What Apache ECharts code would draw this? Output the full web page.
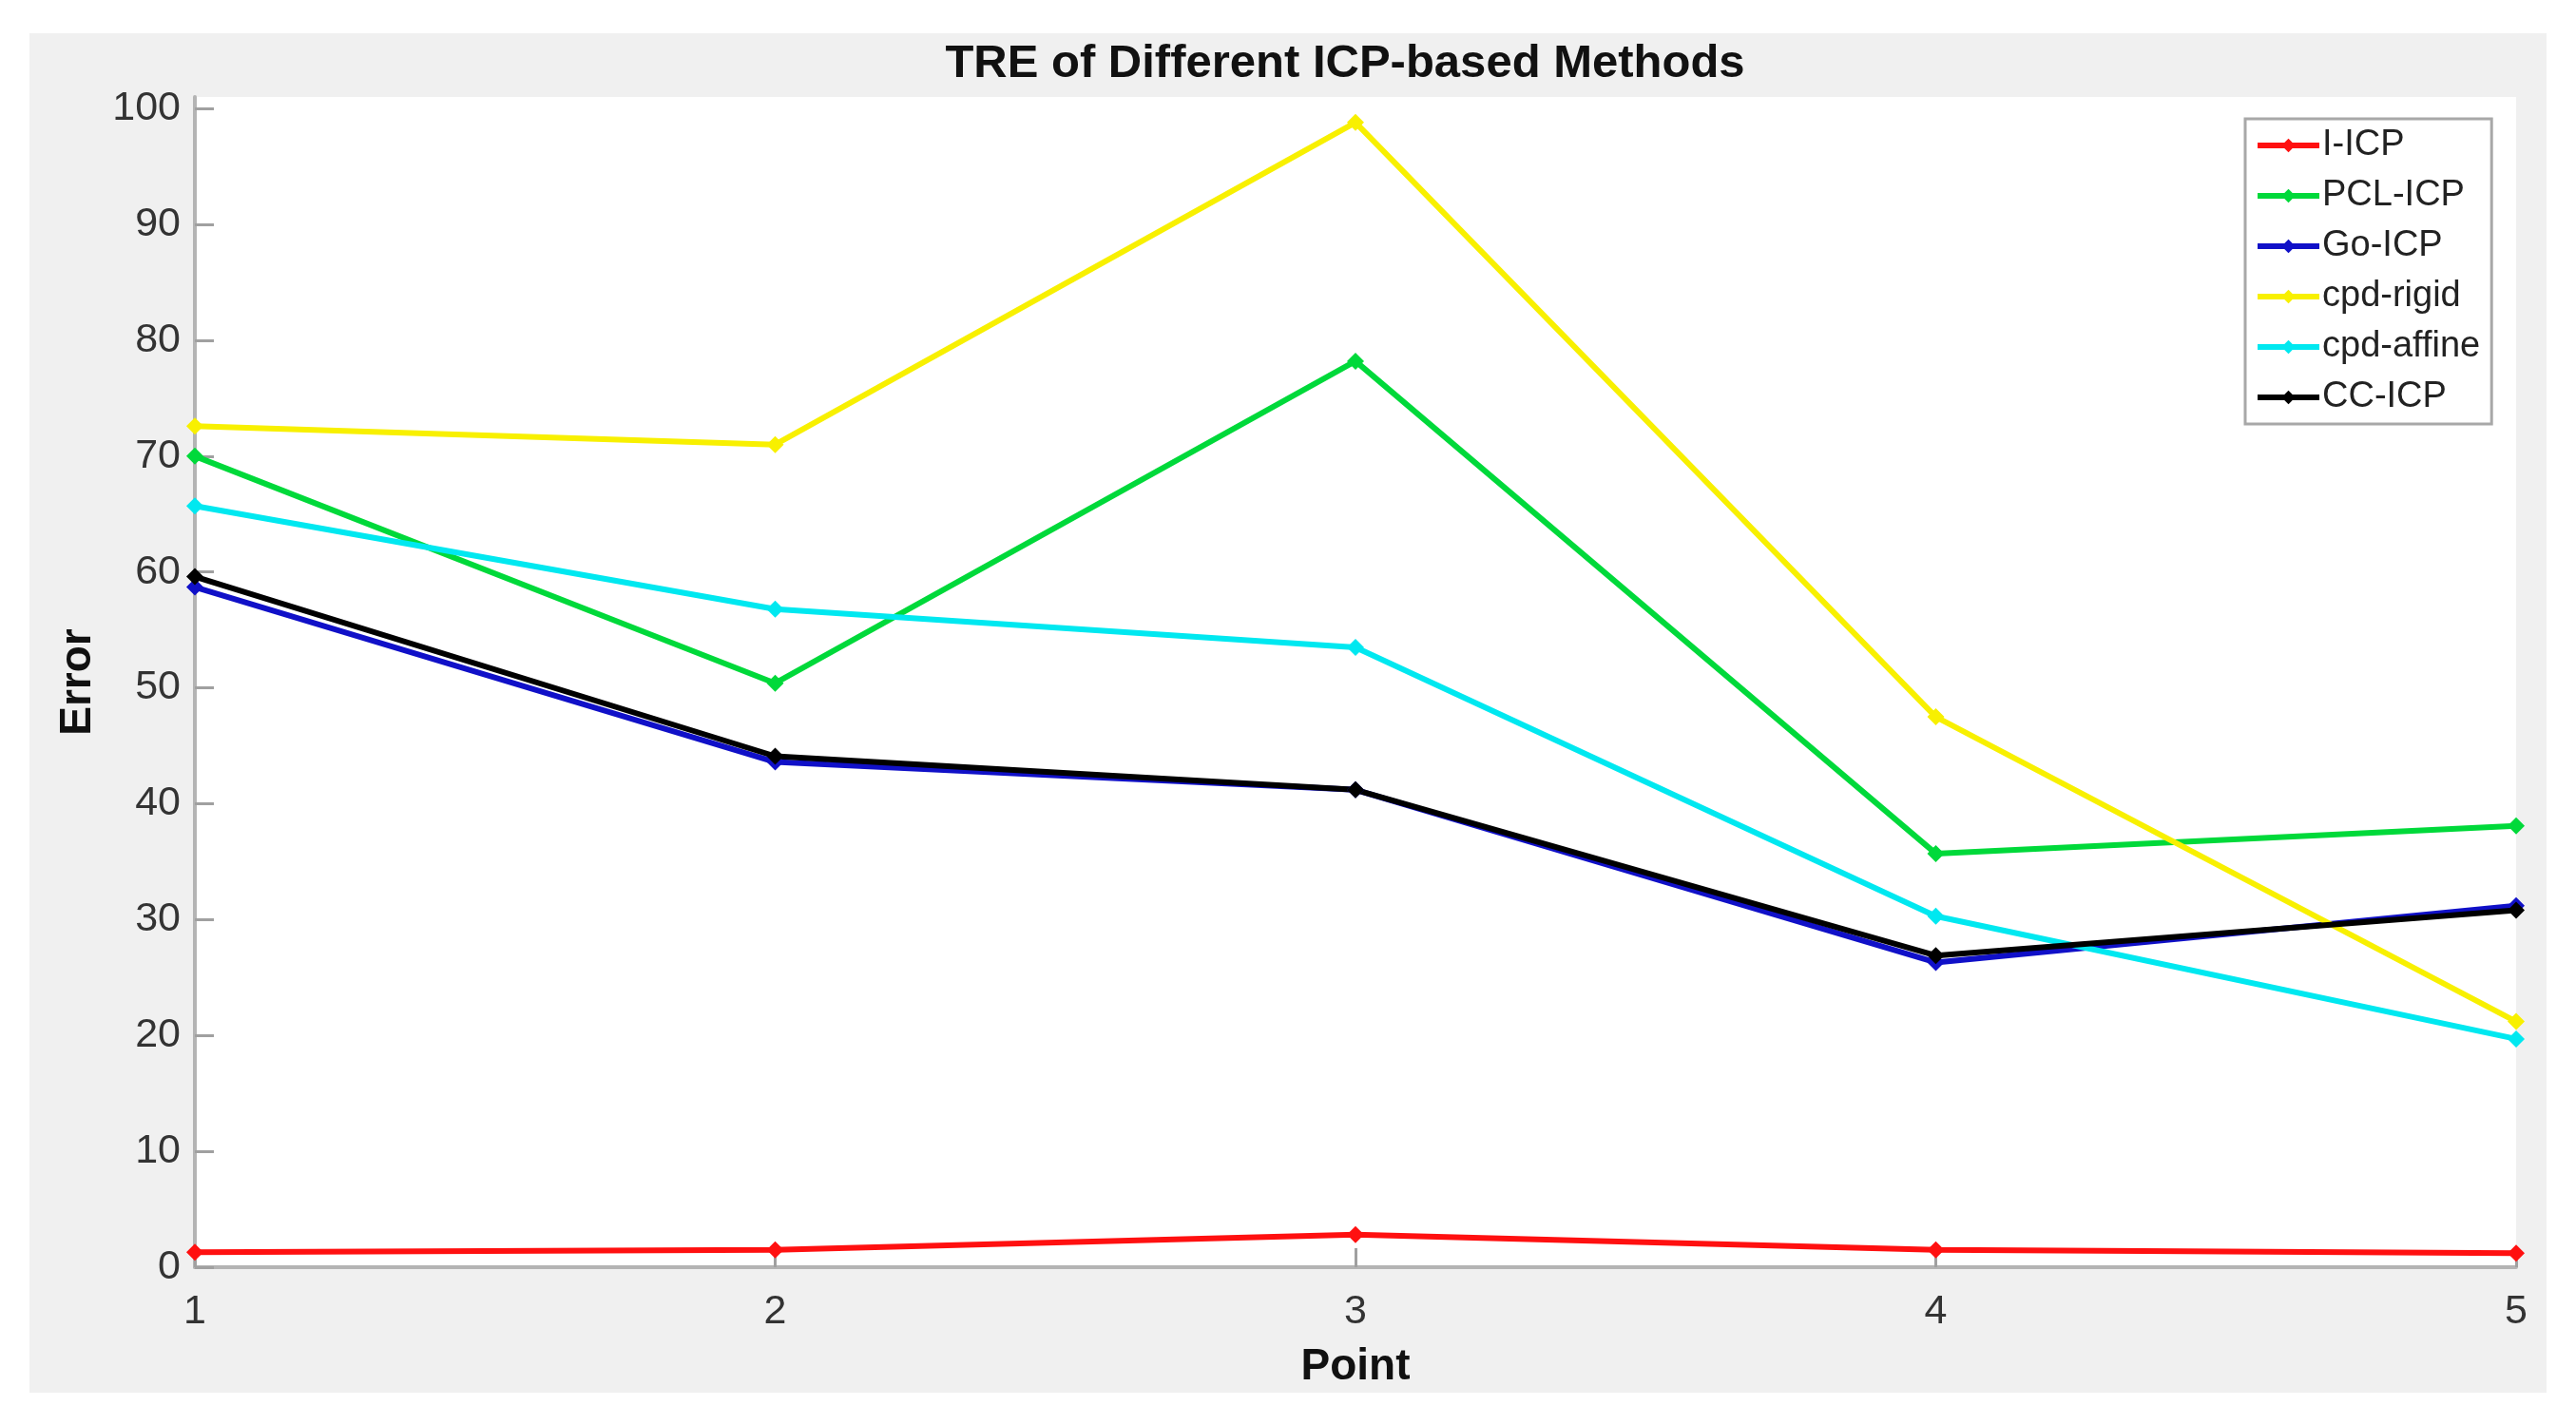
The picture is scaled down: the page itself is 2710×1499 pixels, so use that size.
<!DOCTYPE html>
<html>
<head>
<meta charset="utf-8">
<script src="https://cdn.jsdelivr.net/npm/echarts@6/dist/echarts.min.js"></script>
<style>
html,body{margin:0;padding:0;background:#fff;}
#chart{width:2710px;height:1499px;}
</style>
</head>
<body>
<div id="chart"></div>
<script>
const categories = ['1', '2', '3', '4', '5'];
const seriesNames = ['I-ICP', 'PCL-ICP', 'Go-ICP', 'cpd-rigid', 'cpd-affine', 'CC-ICP'];
const iICP = [1.3, 1.5, 2.8, 1.5, 1.2];
const pclICP = [70.0, 50.4, 78.2, 35.7, 38.1];
const goICP = [58.7, 43.6, 41.2, 26.3, 31.2];
const cpdRigid = [72.6, 71.0, 98.8, 47.5, 21.2];
const cpdAffine = [65.7, 56.8, 53.5, 30.3, 19.7];
const ccICP = [59.6, 44.1, 41.2, 26.9, 30.8];
const yTickValues = [0, 10, 20, 30, 40, 50, 60, 70, 80, 90, 100];

const colors = ['#ff1010', '#00d93a', '#1010c8', '#f8f000', '#00e8f0', '#000000'];
const values = [iICP, pclICP, goICP, cpdRigid, cpdAffine, ccICP];

const chart = echarts.init(document.getElementById('chart'));
const font = 'Liberation Sans, Arial, sans-serif';

chart.setOption({
  animation: false,
  backgroundColor: '#ffffff',
  graphic: [{
    type: 'rect', z: -100, silent: true,
    shape: { x: 31, y: 35, width: 2648, height: 1430 },
    style: { fill: '#f0f0f0' }
  }],
  title: {
    text: 'TRE of Different ICP-based Methods',
    left: 1410, top: 38, textAlign: 'center',
    textStyle: { fontFamily: font, fontWeight: 'bold', fontSize: 49, color: '#111' }
  },
  legend: {
    orient: 'vertical',
    left: 2362, top: 125,
    padding: [8, 12, 8, 10],
    backgroundColor: '#ffffff',
    borderColor: '#a8a8a8', borderWidth: 3, borderRadius: 0,
    itemWidth: 65, itemHeight: 18, itemGap: 13,
    lineStyle: { width: 6 },
    textStyle: { fontFamily: font, fontSize: 38, color: '#222', lineHeight: 40, padding: [0, 0, 0, -2] },
    data: seriesNames
  },
  grid: {
    left: 205, right: 63, top: 102, bottom: 166,
    show: true, backgroundColor: '#ffffff', borderWidth: 0
  },
  xAxis: {
    type: 'category',
    data: categories,
    boundaryGap: false,
    name: 'Point', nameLocation: 'middle', nameGap: 82,
    nameTextStyle: { fontFamily: font, fontWeight: 'bold', fontSize: 46, color: '#111' },
    axisLine: { lineStyle: { color: '#b4b4b4', width: 4 } },
    axisTick: { inside: true, length: 20, lineStyle: { color: '#a0a0a0', width: 3 } },
    axisLabel: { fontFamily: font, fontSize: 43, color: '#333', margin: 26 },
    splitLine: { show: false }
  },
  yAxis: {
    type: 'value',
    min: 0, max: 101, interval: 10,
    name: 'Error', nameLocation: 'middle', nameGap: 100,
    nameTextStyle: { fontFamily: font, fontWeight: 'bold', fontSize: 46, color: '#111' },
    axisLine: { show: true, lineStyle: { color: '#b4b4b4', width: 4 } },
    axisTick: { show: true, inside: true, length: 20, customValues: yTickValues, lineStyle: { color: '#a0a0a0', width: 3 } },
    axisLabel: { fontFamily: font, fontSize: 43, color: '#333', margin: 15, customValues: yTickValues },
    splitLine: { show: false }
  },
  series: seriesNames.map((name, i) => ({
    name: name,
    type: 'line',
    data: values[i],
    symbol: 'diamond',
    symbolSize: 18,
    lineStyle: { width: 6, color: colors[i] },
    itemStyle: { color: colors[i] },
    clip: false
  }))
});
</script>
</body>
</html>
